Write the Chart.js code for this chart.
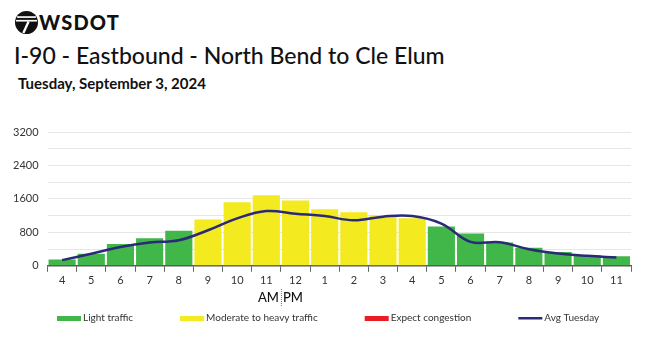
<!DOCTYPE html>
<html>
<head>
<meta charset="utf-8">
<script src="https://cdn.jsdelivr.net/npm/chart.js@4.4.1/dist/chart.umd.min.js"></script>
<style>
  body { margin: 0; background: #fff; font-family: Lato, sans-serif; }
  #wrap { position: relative; width: 650px; height: 337px; overflow: hidden; }
  #logo { position: absolute; left: 15px; top: 11px; }
  #brand { position: absolute; left: 39px; top: 10px; font: 900 20px Lato, sans-serif; color: #111; letter-spacing: 1.2px; }
  #title { position: absolute; left: 14px; top: 41px; font: 500 23px Lato, sans-serif; color: #111; white-space: nowrap; }
  #date { position: absolute; left: 18px; top: 74px; font: 700 15px Lato, sans-serif; color: #111; white-space: nowrap; }
  canvas { position: absolute; left: 0; top: 0; }
</style>
</head>
<body>
<div id="wrap">
  <svg id="logo" width="23" height="23" viewBox="0 0 22 22">
    <circle cx="11" cy="11" r="11" fill="#111"/>
    <rect x="2" y="5" width="18" height="1.6" fill="#fff"/>
    <rect x="1" y="8.5" width="20" height="1.6" fill="#fff"/>
    <path d="M13 10 L8 21" stroke="#fff" stroke-width="2.2"/>
  </svg>
  <div id="brand">WSDOT</div>
  <div id="title">I-90 - Eastbound - North Bend to Cle Elum</div>
  <div id="date">Tuesday, September 3, 2024</div>
  <canvas id="chart" width="650" height="337"></canvas>
</div>
<script>
// hour labels, 4 AM to 11 PM
const hours = ['4', '5', '6', '7', '8', '9', '10', '11', '12', '1', '2', '3', '4', '5', '6', '7', '8', '9', '10', '11'];

// volume per hour split by traffic level
const lightTraffic = [150, 290, 520, 660, 840, null, null, null, null, null, null, null, null, 940, 770, 560, 430, 330, 255, 230];
const moderateTraffic = [null, null, null, null, null, 1110, 1520, 1690, 1560, 1350, 1280, 1210, 1140, null, null, null, null, null, null, null];
const congestion = hours.map(() => null);

// average Tuesday
const avgTuesday = [136, 290, 450, 556, 611, 850, 1135, 1310, 1246, 1190, 1088, 1176, 1190, 1009, 572, 564, 397, 295, 238, 200];

const yTicks = [0, 800, 1600, 2400, 3200];

const GREEN = '#41b649';
const YELLOW = '#f3ea1f';
const RED = '#ed1c24';
const NAVY = '#2b2a78';

// AM | PM marker under the x axis
const amPm = {
  id: 'amPm',
  afterDraw(chart) {
    const x = chart.scales.x;
    const cx = (x.getPixelForValue(7) + x.getPixelForValue(8)) / 2;
    const ctx = chart.ctx;
    const y = 298;
    ctx.save();
    ctx.font = '500 13px Lato, sans-serif';
    ctx.fillStyle = '#111';
    ctx.textBaseline = 'middle';
    ctx.textAlign = 'right';
    ctx.fillText('AM', cx - 2, y);
    ctx.textAlign = 'left';
    ctx.fillText('PM', cx + 2, y);
    ctx.strokeStyle = '#777';
    ctx.lineWidth = 1;
    ctx.setLineDash([1, 1]);
    ctx.beginPath();
    ctx.moveTo(cx + 0.5, y - 9);
    ctx.lineTo(cx + 0.5, y + 9);
    ctx.stroke();
    ctx.restore();
  }
};

// legend row, spaced like the original
const legendRow = {
  id: 'legendRow',
  afterDraw(chart) {
    const ctx = chart.ctx;
    const y = 318;
    let x = 57;
    ctx.save();
    ctx.font = '10px Lato, sans-serif';
    ctx.textBaseline = 'middle';
    ctx.textAlign = 'left';
    chart.data.datasets.forEach((ds) => {
      if (ds.type === 'line') {
        ctx.fillStyle = ds.borderColor;
        ctx.fillRect(x, y - 1, 24, 2.5);
      } else {
        ctx.fillStyle = ds.backgroundColor;
        ctx.fillRect(x, y - 2, 24, 5);
      }
      ctx.fillStyle = '#333';
      ctx.fillText(ds.label, x + 26, y);
      x += 26 + ctx.measureText(ds.label).width + 47;
    });
    ctx.restore();
  }
};

new Chart(document.getElementById('chart'), {
  data: {
    labels: hours,
    datasets: [
      { type: 'bar', label: 'Light traffic', data: lightTraffic, backgroundColor: GREEN, grouped: false, barPercentage: 0.93, categoryPercentage: 1, order: 2 },
      { type: 'bar', label: 'Moderate to heavy traffic', data: moderateTraffic, backgroundColor: YELLOW, grouped: false, barPercentage: 0.93, categoryPercentage: 1, order: 2 },
      { type: 'bar', label: 'Expect congestion', data: congestion, backgroundColor: RED, grouped: false, barPercentage: 0.93, categoryPercentage: 1, order: 2 },
      { type: 'line', label: 'Avg Tuesday', data: avgTuesday, borderColor: NAVY, borderWidth: 2.5, tension: 0.4, pointRadius: 0, fill: false, order: 1 }
    ]
  },
  options: {
    responsive: false,
    animation: false,
    layout: { padding: { top: 132, left: 4, right: 19, bottom: 48 } },
    scales: {
      x: {
        grid: { offset: true, drawOnChartArea: false, tickLength: 6, color: '#666' },
        border: { color: '#555', width: 1.5 },
        ticks: { color: '#333', font: { family: 'Lato', size: 11 }, padding: 2 }
      },
      y: {
        min: 0,
        max: 3200,
        afterBuildTicks: (scale) => {
          const t = [];
          for (let v = 0; v <= 3200; v += 400) t.push({ value: v });
          scale.ticks = t;
        },
        grid: { color: '#e6e6e6', drawTicks: false },
        border: { display: false },
        ticks: {
          color: '#333',
          font: { family: 'Lato', size: 11 },
          padding: 9,
          callback: (v) => yTicks.includes(v) ? String(v) : ''
        }
      }
    },
    plugins: {
      tooltip: { enabled: false },
      legend: { display: false }
    }
  },
  plugins: [amPm, legendRow]
});
</script>
</body>
</html>
